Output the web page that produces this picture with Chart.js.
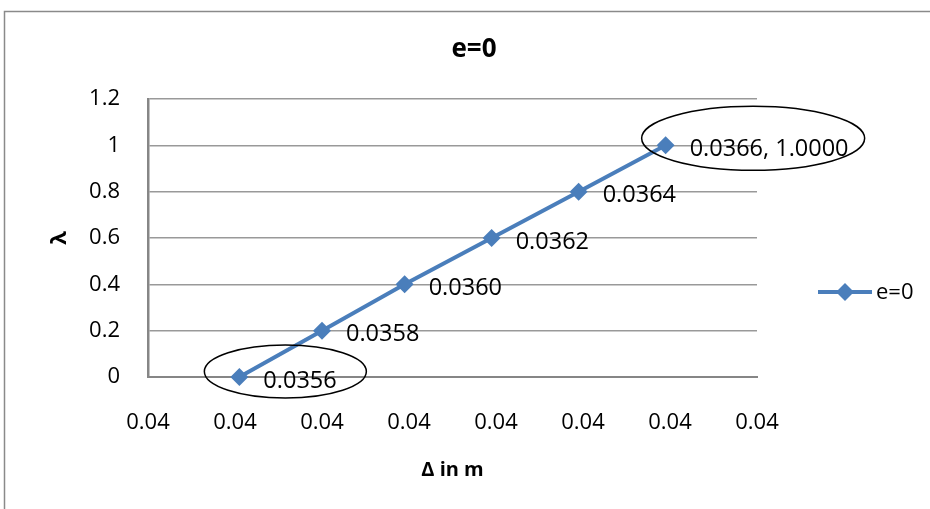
<!DOCTYPE html>
<html>
<head>
<meta charset="utf-8">
<script src="https://cdn.jsdelivr.net/npm/chart.js@4/dist/chart.umd.min.js"></script>
<style>
  body { margin: 0; background: #fff; }
</style>
</head>
<body>
<canvas id="grafico" width="930" height="509"></canvas>
<script>
// dados
const nomeSerie = 'e=0';
const deltas = [0.03561, 0.03580, 0.03599, 0.03619, 0.03639, 0.03659];
const lambdas = [0, 0.2, 0.4, 0.6, 0.8, 1.0];
const rotulosPontos = ['0.0356', '0.0358', '0.0360', '0.0362', '0.0364', '0.0366, 1.0000'];
const rotulosX = ['0.04', '0.04', '0.04', '0.04', '0.04', '0.04', '0.04', '0.04'];
const rotulosY = ['0', '0.2', '0.4', '0.6', '0.8', '1', '1.2'];
const pontosCirculados = [0, 5];

const AZUL = '#4A7EBB';
const FONTE = "'Open Sans', sans-serif";

// moldura, título, rótulos, elipses e legenda desenhados à mão
const extras = {
    id: 'extras',
    beforeDraw(chart) {
        const ctx = chart.ctx;
        ctx.save();
        ctx.strokeStyle = '#8a8a8a';
        ctx.lineWidth = 1.5;
        ctx.beginPath();
        ctx.moveTo(4.5, 520);
        ctx.lineTo(4.5, 11.5);
        ctx.lineTo(940, 11.5);
        ctx.stroke();

        // título centrado na área do gráfico inteiro (não só na área dos eixos)
        ctx.font = 'bold 26px ' + FONTE;
        ctx.fillStyle = '#000';
        ctx.textAlign = 'center';
        ctx.textBaseline = 'middle';
        ctx.fillText(nomeSerie, 474, 50);
        ctx.restore();
    },
    afterDatasetsDraw(chart) {
        const ctx = chart.ctx;
        const pontos = chart.getDatasetMeta(0).data;
        ctx.save();
        ctx.font = '23.5px ' + FONTE;
        ctx.fillStyle = '#000';
        ctx.textBaseline = 'middle';
        ctx.textAlign = 'left';
        pontos.forEach((p, i) => {
            ctx.fillText(rotulosPontos[i], p.x + 24, p.y + 4);
        });

        // elipses em volta do primeiro e do último ponto
        ctx.strokeStyle = '#000';
        ctx.lineWidth = 1.5;
        const p0 = pontos[pontosCirculados[0]];
        ctx.beginPath();
        ctx.ellipse(p0.x + 46, p0.y - 5.5, 81, 26.5, 0, 0, Math.PI * 2);
        ctx.stroke();
        const p1 = pontos[pontosCirculados[1]];
        ctx.beginPath();
        ctx.ellipse(p1.x + 87.5, p1.y - 7, 111.5, 32, 0, 0, Math.PI * 2);
        ctx.stroke();

        // legenda
        const ly = 292;
        ctx.font = '22px ' + FONTE;
        ctx.strokeStyle = AZUL;
        ctx.lineWidth = 4;
        ctx.beginPath();
        ctx.moveTo(818, ly);
        ctx.lineTo(872, ly);
        ctx.stroke();
        ctx.fillStyle = AZUL;
        ctx.beginPath();
        ctx.moveTo(845, ly - 9);
        ctx.lineTo(854, ly);
        ctx.lineTo(845, ly + 9);
        ctx.lineTo(836, ly);
        ctx.closePath();
        ctx.fill();
        ctx.fillStyle = '#000';
        ctx.fillText(chart.data.datasets[0].label, 876, ly + 1);
        ctx.restore();
    }
};

const ctx = document.getElementById('grafico').getContext('2d');
const grafico = new Chart(ctx, {
    type: 'scatter',
    data: {
        datasets: [{
            label: nomeSerie,
            data: deltas.map((d, i) => ({ x: d, y: lambdas[i] })),
            showLine: true,
            clip: false,
            borderColor: AZUL,
            backgroundColor: AZUL,
            borderWidth: 4,
            pointStyle: 'rectRot',
            pointRadius: 9,
            pointBorderWidth: 0,
            tension: 0
        }]
    },
    options: {
        responsive: false,
        animation: false,
        devicePixelRatio: 1,
        layout: { padding: { left: 0, right: 173, top: 99, bottom: 0 } },
        plugins: {
            legend: { display: false },
            tooltip: { enabled: false },
            title: { display: false }
        },
        scales: {
            x: {
                type: 'linear',
                min: 0.0354,
                max: 0.0368,
                afterFit: s => { s.height = 132; },
                afterBuildTicks: s => {
                    s.ticks = rotulosX.map((t, i) => ({ value: 0.0354 + i * 0.0002 }));
                },
                ticks: {
                    autoSkip: false,
                    maxRotation: 0,
                    padding: 33,
                    color: '#000',
                    font: { family: FONTE, size: 22 },
                    callback: (v, i) => rotulosX[i]
                },
                grid: { display: false, drawTicks: false },
                border: { display: true, color: '#868686', width: 2 },
                title: {
                    display: true,
                    text: 'Δ in m',
                    color: '#000',
                    font: { family: FONTE, size: 20, weight: 'bold' },
                    padding: { top: 0, bottom: 27 }
                }
            },
            y: {
                min: 0,
                max: 1.2,
                afterFit: s => { s.width = 148; },
                afterBuildTicks: s => {
                    s.ticks = rotulosY.map(t => ({ value: parseFloat(t) }));
                },
                ticks: {
                    padding: 28,
                    color: '#000',
                    font: { family: FONTE, size: 22 },
                    callback: (v, i) => rotulosY[i]
                },
                grid: { color: '#999999', lineWidth: 1.5, drawTicks: false },
                border: { display: true, color: '#868686', width: 2.5 },
                title: {
                    display: true,
                    text: 'λ',
                    color: '#000',
                    font: { family: FONTE, size: 22, weight: 'bold' },
                    padding: { top: 47, bottom: 0 }
                }
            }
        }
    },
    plugins: [extras]
});
</script>
</body>
</html>
